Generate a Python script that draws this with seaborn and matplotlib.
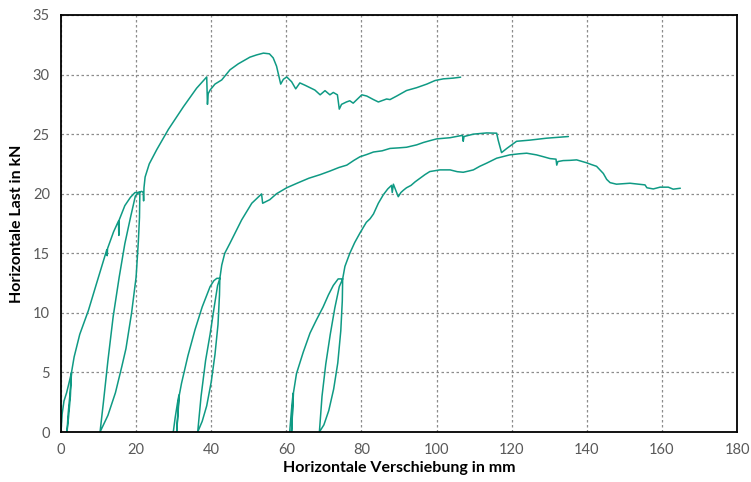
import numpy as np
import pandas as pd
import matplotlib
matplotlib.use("Agg")
import matplotlib.pyplot as plt
import seaborn as sns

# Versuch 1 (Start bei 0 mm)
x1 = [0, 0.3, 0.8, 1.5, 2.2, 2.8, 2.5, 2.0, 1.6, 1.9, 2.4, 2.8, 3.5, 5, 7.3, 9.5, 12.2, 12.3, 12.4,
      14, 15.3, 15.4, 15.5, 17, 18.5, 19.7, 21,
      20.9, 20.6, 20, 18.8, 17.3, 16.2, 14.5, 12.5, 10.4,
      11.3, 12.5, 13.9, 15.5, 17, 18.5, 19.8, 20.6, 21.5, 21.9, 22, 22.1, 22.4, 23.5, 25.5, 28.6,
      32.6, 36.1, 38.8, 39.0, 39.2, 39.7, 41, 42.8, 45, 47.2, 50.3, 52.1, 53.9, 55.5, 56.5, 57.4,
      58.5, 59.2, 60.1, 61.4, 62.5, 63.6, 65, 66.3, 67.6, 69, 70.3, 71.6, 72.5, 73.6, 74.1, 74.7,
      76, 76.9, 77.8, 80.1, 81.4, 83.2, 84.5, 86.7, 87.6, 89.4, 92, 94.7, 97.4, 99.6, 101.8,
      104.4, 106.4]
y1 = [0, 1.5, 2.6, 3.3, 4.2, 5.0, 3.0, 1.2, 0, 1.5, 3.2, 5.0, 6.3, 8.2, 10.2, 12.5, 15.3, 14.8, 15.4,
      16.8, 17.7, 16.5, 17.8, 19, 19.7, 20.1, 20.1,
      18, 16, 13, 10, 7, 5.5, 3.3, 1.4, 0,
      2.5, 6, 9.7, 13, 15.8, 18, 19.8, 20.1, 20.2, 20.1, 19.4, 20.5, 21.4, 22.5, 23.7, 25.4,
      27.3, 28.85, 29.8, 27.5, 28.4, 28.7, 29.2, 29.55, 30.4, 30.9, 31.46, 31.65, 31.8, 31.74, 31.4, 30.7,
      29.2, 29.6, 29.8, 29.4, 28.8, 29.3, 29.1, 28.9, 28.7, 28.3, 28.65, 28.3, 28.5, 28.3, 27.1, 27.5,
      27.7, 27.8, 27.6, 28.3, 28.2, 27.9, 27.7, 27.95, 27.9, 28.2, 28.66, 28.9, 29.2, 29.5, 29.64,
      29.7, 29.78]

# Versuch 2 (Start bei 30 mm)
x2 = [29.9, 30.4, 31.0, 31.4, 31.1, 30.8, 31.1, 31.5, 32.1, 33.8, 35.7, 37.6, 39.7, 40.7, 41.5, 42.3,
      42.2, 41.8, 41.0, 40, 38.8, 37.6, 36.4,
      37.3, 38.5, 39.7, 40.8, 41.7, 42.3, 42.8, 43.6, 45, 48.1, 50.8, 53.4, 53.7, 55.6, 57.4, 60.1, 63,
      66, 69, 71.6, 74, 76.1, 78, 79.6, 81.5, 83.2, 85.5, 87.6, 90, 92, 94.7, 96.5, 98.2, 100,
      103.6, 106.9, 107.1, 107.3, 109.8, 113.3, 116, 116.4, 117.3, 118.7, 121.3, 124.9, 129.3, 135.1]
y2 = [0, 1.2, 2.4, 3.1, 1.5, 0, 1.3, 3.1, 4.1, 6.4, 8.6, 10.5, 12.2, 12.7, 12.9, 12.9,
      11.5, 9, 6.5, 4.2, 2.2, 0.9, 0,
      3, 6, 8.2, 10.5, 12.3, 12.9, 14.0, 15.0, 15.85, 17.8, 19.2, 19.98, 19.2, 19.5, 20.0, 20.5, 20.9,
      21.3, 21.6, 21.9, 22.2, 22.4, 22.8, 23.1, 23.3, 23.5, 23.6, 23.8, 23.85, 23.9, 24.1, 24.3, 24.45, 24.6,
      24.7, 24.9, 24.4, 24.8, 25.0, 25.1, 25.08, 24.5, 23.45, 23.8, 24.4, 24.5, 24.66, 24.8]

# Versuch 3 (Start bei 60 mm)
x3 = [60.9, 61.2, 61.5, 61.8, 61.6, 61.4, 61.6, 61.9, 62.7, 64.5, 66.3, 68, 69.8, 71.2, 72.5, 73.8, 75,
      74.9, 74.5, 73.7, 72.6, 71.3, 70, 68.8,
      69.5, 70.5, 71.7, 72.9, 74.1, 75, 75.6, 76.9, 78.2, 79.6, 81.3, 82.3, 83.2, 84.5, 85.8, 87,
      88, 88.2, 88.5, 89.8, 90.5, 91.2, 92, 93.2, 94.3, 95.6, 96.9, 98.2, 100.9, 103.6, 105.5,
      107.1, 108.5, 109.8, 111.5, 113.3, 116, 119.5, 122, 124, 126.6, 128.5, 130.2, 131.8, 132,
      132.3, 133.7, 135.5, 137.3, 139.9, 141.2, 142.6, 143.5, 144.4, 145.3, 146.2, 147.9, 151.5,
      155.5, 156, 157.7, 159.5, 161.7, 163, 164.9]
y3 = [0, 1.2, 2.3, 3.25, 1.5, 0, 1.3, 3.3, 4.9, 6.7, 8.3, 9.4, 10.5, 11.5, 12.3, 12.85, 12.85,
      11, 8.5, 5.8, 3.6, 1.8, 0.6, 0,
      3, 5.7, 8.2, 10.4, 12.2, 12.85, 13.9, 15.0, 15.9, 16.7, 17.6, 17.9, 18.3, 19.2, 19.9, 20.4,
      20.7, 20.1, 20.8, 19.75, 20.1, 20.3, 20.5, 20.7, 21.0, 21.3, 21.6, 21.86, 22.0, 22.0, 21.85,
      21.8, 21.9, 22.0, 22.3, 22.56, 22.98, 23.26, 23.35, 23.4, 23.26, 23.1, 22.95, 22.9, 22.4,
      22.7, 22.78, 22.8, 22.84, 22.6, 22.45, 22.3, 22.0, 21.7, 21.2, 20.93, 20.8, 20.88,
      20.74, 20.5, 20.4, 20.55, 20.55, 20.38, 20.46]

x_ticks = [0, 20, 40, 60, 80, 100, 120, 140, 160, 180]
y_ticks = [0, 5, 10, 15, 20, 25, 30, 35]

sns.set_style("white")
plt.rcParams['font.family'] = ['Lato', 'DejaVu Sans']

farbe = "#0f9a84"

fig = plt.figure(figsize=(7.51, 4.82), dpi=100)
ax = fig.add_axes([0.0812, 0.1037, 0.9002, 0.8652])

for xs, ys in [(x1, y1), (x2, y2), (x3, y3)]:
    df = pd.DataFrame({"weg": xs, "last": ys})
    sns.lineplot(data=df, x="weg", y="last", sort=False, estimator=None,
                 color=farbe, linewidth=1.1, ax=ax)

ax.set_xlim(0, 180)
ax.set_ylim(0, 35)
ax.set_xticks(x_ticks)
ax.set_yticks(y_ticks)
ax.tick_params(axis="both", length=0, labelsize=10.5, labelcolor="#595959", pad=8)
ax.grid(True, color="#8c8c8c", linestyle=(0, (2, 2)), linewidth=0.9)
for s in ax.spines.values():
    s.set_color("black")
    s.set_linewidth(1.3)

ax.set_xlabel("Horizontale Verschiebung in mm", fontsize=11.5, fontweight="bold", color="black", labelpad=3)
ax.set_ylabel("Horizontale Last in kN", fontsize=11.5, fontweight="bold", color="black", labelpad=6)

fig.savefig("out.png", dpi=100)
